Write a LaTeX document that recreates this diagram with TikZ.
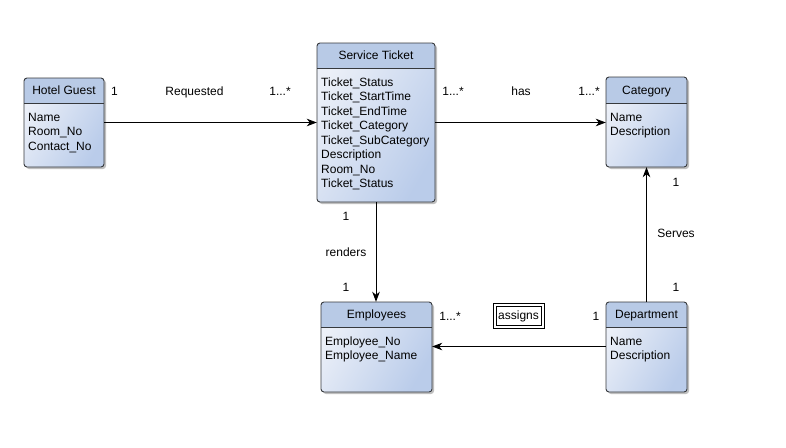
\documentclass[tikz,border=0pt]{standalone}
\usepackage{fontspec}
\setmainfont{Liberation Sans}
\usetikzlibrary{arrows.meta,shadows}
\definecolor{headcol}{RGB}{184,202,230}
\definecolor{bodydark}{RGB}{186,204,234}
\definecolor{bodylight}{RGB}{236,240,248}
\definecolor{bordcol}{RGB}{54,57,61}
\tikzset{
  ebox/.style={rectangle, rounded corners=3pt, inner sep=0pt, draw=none,
    left color=bodylight, right color=bodydark, shading angle=60,
    drop shadow={shadow xshift=2pt, shadow yshift=-2pt, opacity=0.25, fill=black}},
  eborder/.style={draw=bordcol, line width=0.9pt, rounded corners=3pt},
  etext/.style={font=\fontsize{12}{14.5}\selectfont, inner sep=0pt, text height=8.6pt, text depth=0pt},
  conn/.style={draw=black, line width=0.9pt, -{Stealth[length=10pt,width=7.5pt,inset=3pt]}},
}
\newcommand\entity[8]{%
  \node[ebox, minimum width={#4-#2}, minimum height={#5-#3}] (#1) at ({(#2+#4)/2},{(#3+#5)/2}) {};
  \begin{scope}
    \clip[rounded corners=3pt] (#2,#3) rectangle (#4,#5);
    \fill[headcol] (#2,#3) rectangle (#4,#6);
  \end{scope}
  \draw[draw=bordcol, line width=0.9pt] (#2,#6) -- (#4,#6);
  \draw[eborder] (#2,#3) rectangle (#4,#5);
  \node[etext] (#1-t) at ({(#2+#4)/2},{(#3+#6)/2}) {#7};
  \foreach \a [count=\i] in {#8}{
    \node[etext, anchor=west] (#1-a\i) at (#2+4, {#6+14+(\i-1)*14.5}) {\a};
  }%
}
\begin{document}
\begin{tikzpicture}[x=1pt,y=-1pt]
\useasboundingbox (0,0) rectangle (786,447);
\fill[white] (0,0) rectangle (786,447);
\entity{hg}{24}{78}{104}{167}{103}{Hotel Guest}{Name,Room\_No,Contact\_No}
\entity{st}{317}{43}{435}{202}{68}{Service Ticket}{Ticket\_Status,Ticket\_StartTime,Ticket\_EndTime,Ticket\_Category,Ticket\_SubCategory,Description,Room\_No,Ticket\_Status}
\entity{cat}{606}{77}{687}{167}{103}{Category}{Name,Description}
\entity{emp}{321}{302}{432}{392}{327}{Employees}{Employee\_No,Employee\_Name}
\entity{dep}{606}{302}{687}{392}{327}{Department}{Name,Description}
% connectors
\draw[conn] (hg.east |- 0,122.5) -- (st.west |- 0,122.5);
\draw[conn] (st.east |- 0,122.5) -- (cat.west |- 0,122.5);
\draw[conn] (st.south -| 376,0) -- (emp.north -| 376,0);
\draw[conn] (dep.north -| 646.5,0) -- (cat.south -| 646.5,0);
\draw[conn] (dep.west |- 0,346.5) -- (emp.east |- 0,346.5);
% labels
\node[etext] (l1) at (114.5,91.5) {1};
\node[etext] (l2) at (194.5,91.5) {Requested};
\node[etext] (l3) at (280,91.5) {1...*};
\node[etext] (l4) at (453,91.5) {1...*};
\node[etext] (l5) at (521,91.5) {has};
\node[etext] (l6) at (589,91.5) {1...*};
\node[etext] (l7) at (346,216) {1};
\node[etext] (l8) at (346,252) {renders};
\node[etext] (l9) at (346,287) {1};
\node[etext] (l10) at (676,182.5) {1};
\node[etext] (l11) at (676,233) {Serves};
\node[etext] (l12) at (676,287) {1};
\node[etext] (l13) at (450,316) {1...*};
\node[etext] (l14) at (596,316) {1};
\node[draw=black, line width=0.7pt, minimum width=51pt, minimum height=25pt, inner sep=0pt] (asg) at (518.5,315.5) {};
\node[draw=black, line width=0.7pt, minimum width=45pt, minimum height=19pt, inner sep=0pt] (asgi) at (518.5,315.5) {};
\node[etext] (l15) at (518.5,315.5) {assigns};
\end{tikzpicture}
\end{document}
